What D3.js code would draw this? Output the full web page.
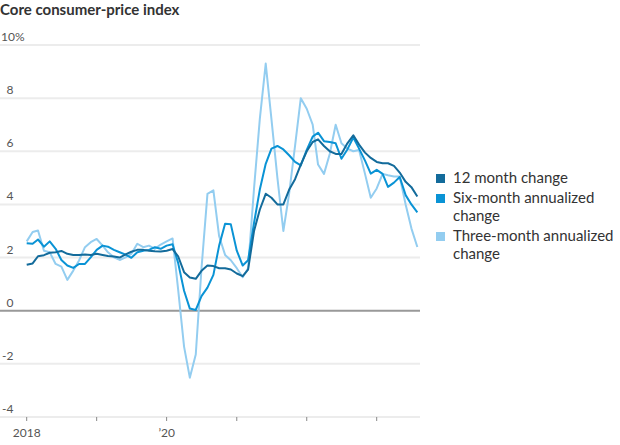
<!DOCTYPE html>
<html lang="en">
<head>
<meta charset="UTF-8">
<title>Core consumer-price index</title>
<script src="https://d3js.org/d3.v7.min.js"></script>
<style>
  body { margin: 0; background: #fff; }
  text { font-family: Lato, "Noto Sans", sans-serif; }
</style>
</head>
<body>
<script>
// monthly, Jan 2018 .. Aug 2023
var startMonth = "2018-01";

var twelveMonth = [
  1.73, 1.78, 2.05, 2.09, 2.18, 2.2, 2.25, 2.14, 2.1, 2.1, 2.12, 2.1,
  2.14, 2.1, 2.06, 2.04, 2.0, 2.12, 2.22, 2.29, 2.29, 2.26, 2.24, 2.23,
  2.26, 2.32, 2.05, 1.45, 1.25, 1.2, 1.5, 1.7, 1.68, 1.6, 1.6, 1.55,
  1.4, 1.3, 1.55, 3.0, 3.8, 4.4, 4.25, 4.0, 4.0, 4.55, 4.95, 5.5,
  6.0, 6.35, 6.45, 6.2, 6.0, 5.9, 5.9, 6.3, 6.6, 6.25, 5.95, 5.75,
  5.6, 5.55, 5.55, 5.45, 5.2, 4.85, 4.65, 4.3
];
var sixMonth = [
  2.54, 2.52, 2.68, 2.41, 2.61, 2.33, 1.91, 1.7, 1.61, 1.76, 1.76, 2.01,
  2.29, 2.45, 2.41, 2.29, 2.2, 2.11, 1.99, 2.2, 2.26, 2.29, 2.39, 2.33,
  2.45, 2.5, 1.8, 0.75, 0.08, 0.03, 0.55, 0.87, 1.35, 2.45, 3.27, 3.25,
  2.26, 1.7, 1.9, 3.3, 4.55, 5.53, 6.1, 6.2, 6.07, 5.85, 5.6, 5.47,
  6.05, 6.55, 6.7, 6.38, 6.35, 6.3, 5.72, 6.07, 6.52, 6.1, 5.65, 5.16,
  5.3, 5.15, 4.66, 4.82, 5.03, 4.35, 4.0, 3.7
];
var threeMonth = [
  2.61, 2.96, 3.02, 2.26, 2.2, 1.76, 1.66, 1.16, 1.51, 1.89, 2.39, 2.58,
  2.7, 2.45, 2.2, 2.01, 1.91, 2.01, 2.14, 2.52, 2.39, 2.45, 2.33, 2.49,
  2.61, 2.72, 0.8, -1.35, -2.52, -1.65, 1.6, 4.4, 4.53, 2.8, 2.1, 1.9,
  1.6, 1.26, 1.6, 4.6, 7.2, 9.3, 7.2, 5.0, 3.0, 4.4, 6.2, 8.0,
  7.6, 7.0, 5.5, 5.15, 5.9, 7.0, 6.3, 6.1, 6.0, 6.05, 5.15, 4.25,
  4.6, 5.15, 5.1, 5.05, 5.05, 4.0, 3.1, 2.4
];

var yTicks = [-4, -2, 0, 2, 4, 6, 8, 10];
var xTickYears = [2018, 2019, 2020, 2021, 2022, 2023];
var xTickLabels = {2018: "2018", 2020: "\u201920"};

var colors = ["#136b9b", "#0a93d5", "#93cdf0"];

var width = 620, height = 445;
var svg = d3.select("body").append("svg")
    .attr("width", width)
    .attr("height", height);

var parseMonth = d3.timeParse("%Y-%m");
var t0 = parseMonth(startMonth);
var dates = twelveMonth.map(function(d, i) { return d3.timeMonth.offset(t0, i); });

var x = d3.scaleTime()
    .domain([new Date(2018, 0, 1), new Date(2023, 0, 1)])
    .range([26.7, 376.7]);
var y = d3.scaleLinear()
    .domain([-4, 10])
    .range([417, 45]);

// title
svg.append("text")
    .attr("x", 0)
    .attr("y", 15)
    .style("font-size", "15px")
    .style("font-weight", "bold")
    .style("fill", "#333")
    .text("Core consumer-price index");

// gridlines
svg.append("g").selectAll("line")
    .data(yTicks)
    .enter()
    .append("line")
    .attr("x1", 0)
    .attr("x2", 420)
    .attr("y1", function(d) { return y(d); })
    .attr("y2", function(d) { return y(d); })
    .style("stroke", function(d) { return d === 0 ? "#999" : "#ececec"; })
    .style("stroke-width", 2);

// y labels
svg.append("g").selectAll("text")
    .data(yTicks)
    .enter()
    .append("text")
    .attr("x", function(d) { return d === 10 ? 1 : 13.5; })
    .attr("y", function(d) { return y(d) - 4; })
    .attr("text-anchor", function(d) { return d === 10 ? "start" : "end"; })
    .style("font-size", "12px")
    .style("fill", "#555")
    .text(function(d) { return d === 10 ? "10%" : d; });

// x ticks
var xt = svg.append("g");
xt.selectAll("line")
    .data(xTickYears)
    .enter()
    .append("line")
    .attr("x1", function(d) { return x(new Date(d, 0, 1)); })
    .attr("x2", function(d) { return x(new Date(d, 0, 1)); })
    .attr("y1", y(-4))
    .attr("y2", y(-4) + 4)
    .style("stroke", "#888")
    .style("stroke-width", 1);
xt.selectAll("text")
    .data(xTickYears.filter(function(d) { return xTickLabels[d]; }))
    .enter()
    .append("text")
    .attr("x", function(d) { return x(new Date(d, 0, 1)); })
    .attr("y", 437)
    .attr("text-anchor", "middle")
    .style("font-size", "12px")
    .style("fill", "#555")
    .text(function(d) { return xTickLabels[d]; });

// lines, lightest first
var line = d3.line()
    .x(function(d, i) { return x(dates[i]); })
    .y(function(d) { return y(d); });

var allSeries = [twelveMonth, sixMonth, threeMonth];
[2, 1, 0].forEach(function(k) {
    svg.append("path")
        .datum(allSeries[k])
        .attr("d", line)
        .style("fill", "none")
        .style("stroke", colors[k])
        .style("stroke-width", 2)
        .style("stroke-linejoin", "round");
});

// legend
var legendRows = [
    {lines: ["12 month change"], y: 183},
    {lines: ["Six-month annualized", "change"], y: 203},
    {lines: ["Three-month annualized", "change"], y: 241}
];
var lg = svg.append("g");
legendRows.forEach(function(r, i) {
    lg.append("rect")
        .attr("x", 436)
        .attr("y", r.y - 9)
        .attr("width", 9)
        .attr("height", 9)
        .style("fill", colors[i]);
    var t = lg.append("text")
        .attr("x", 453)
        .attr("y", r.y)
        .style("font-size", "15px")
        .style("fill", "#333");
    r.lines.forEach(function(s, j) {
        t.append("tspan")
            .attr("x", 453)
            .attr("dy", j === 0 ? 0 : 17.5)
            .text(s);
    });
});
</script>
</body>
</html>
